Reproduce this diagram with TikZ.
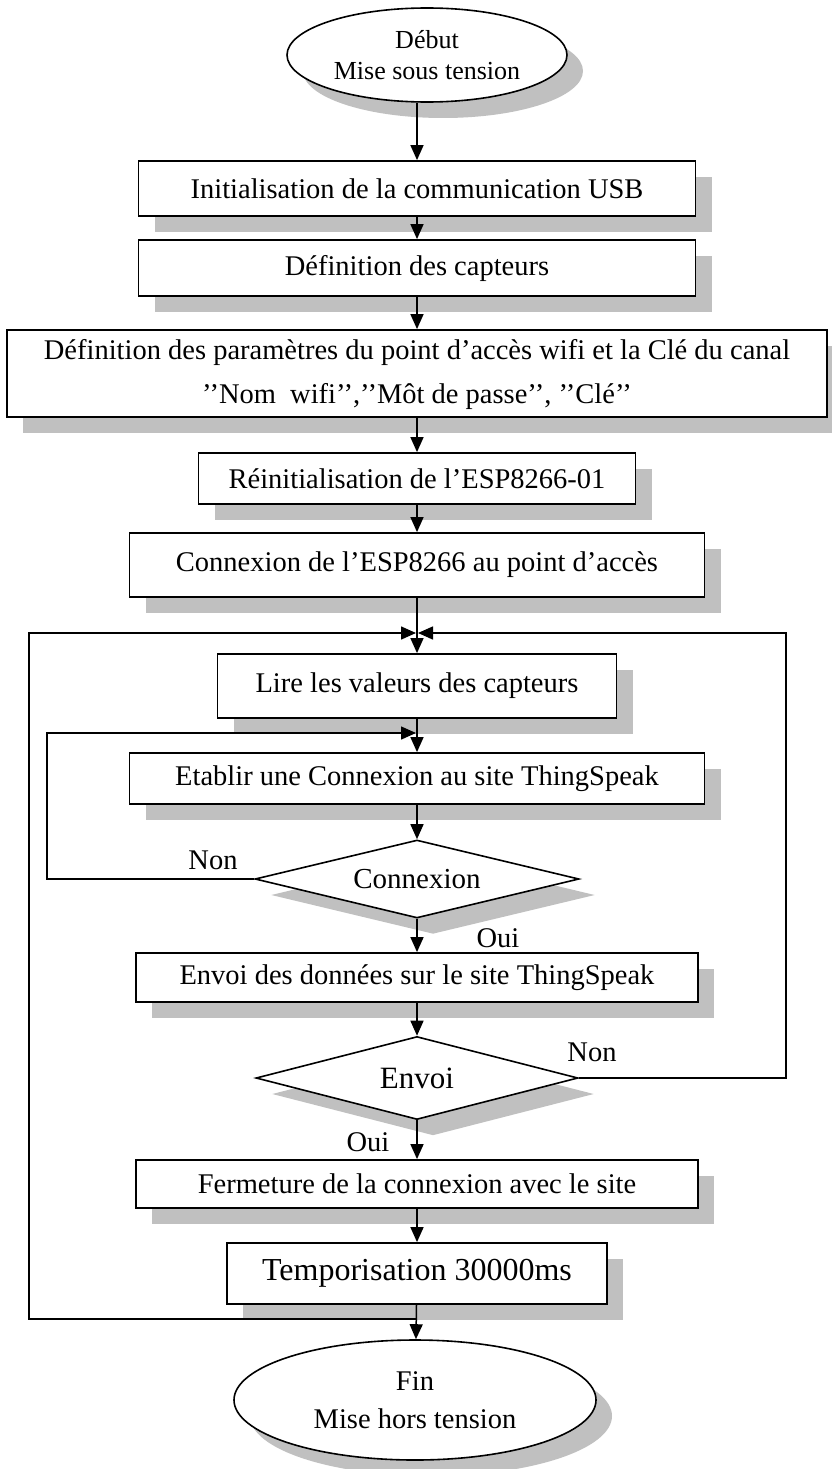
\documentclass[tikz,border=0pt]{standalone}
\usepackage{fontspec}
\setmainfont{Liberation Serif}
\usepackage{tikz}
\usetikzlibrary{arrows.meta}
\usetikzlibrary{shapes.geometric}
\usetikzlibrary{shadows}
\definecolor{ombregris}{RGB}{192,192,192}

\begin{document}
\begin{tikzpicture}[x=1pt,y=-1pt,
    ombre/.style={drop shadow={shadow xshift=16pt,shadow yshift=-16pt,fill=ombregris,opacity=1}},
    boite/.style={draw,line width=1.8pt,fill=white,ombre,inner sep=0pt,align=center,font=\fontsize{28.5}{40}\selectfont},
    decision/.style={diamond,draw,line width=1.6pt,fill=white,ombre,inner sep=0pt,font=\fontsize{29}{34}\selectfont},
    terminal/.style={ellipse,draw,line width=1.6pt,fill=white,ombre,inner sep=0pt,align=center},
    etiquette/.style={inner sep=0pt,font=\fontsize{28.5}{34}\selectfont},
    fleche/.style={line width=1.5pt,-{Triangle[length=15pt,width=13pt]}}]
          \useasboundingbox (0,0) rectangle (831,1469);
          % Debut
          \node[terminal,minimum width=280pt,minimum height=94pt,font=\fontsize{26}{31}\selectfont] (debut) at (427,55) {Début\\Mise sous tension};
          % initialisation USB
          \node[boite,minimum width=557pt,minimum height=55pt] (init) at (417,188.5) {Initialisation de la communication USB};
          % capteurs
          \node[boite,minimum width=557pt,minimum height=56pt] (capteurs) at (417,268) {Définition des capteurs};
          % point d'acces wifi
          \node[boite,minimum width=820pt,minimum height=87pt] (parametres) at (417,373.5) {\raisebox{-5pt}{\begin{tabular}{@{}c@{}}Définition des paramètres du point d’accès wifi et la Clé du canal\\[4pt]’’Nom~ wifi’’,’’Môt de passe’’, ’’Clé’’\end{tabular}}};
          % ESP8266
          \node[boite,minimum width=437pt,minimum height=51pt] (reinit) at (417,478.5) {Réinitialisation de l’ESP8266-01};
          \node[boite,minimum width=575pt,minimum height=64pt] (connexion) at (417,565) {Connexion de l’ESP8266 au point d’accès};
          % boucle principale
          \node[boite,minimum width=399pt,minimum height=64pt] (lire) at (417,686) {Lire les valeurs des capteurs};
          \node[boite,minimum width=575pt,minimum height=51pt] (etablir) at (417,778.5) {Etablir une Connexion au site ThingSpeak};
          \node[decision,shape aspect=4.15,minimum width=324pt,minimum height=78pt] (testcnx) at (417,879) {Connexion};
          \node[boite,minimum width=562pt,minimum height=49pt] (envoi) at (417,977.5) {Envoi des données sur le site ThingSpeak};
          \node[decision,shape aspect=3.88,minimum width=322pt,minimum height=83pt,font=\fontsize{31}{36}\selectfont] (testenvoi) at (417,1078) {Envoi};
          \node[boite,minimum width=562pt,minimum height=48pt] (fermeture) at (417,1184) {Fermeture de la connexion avec le site};
          \node[boite,minimum width=380pt,minimum height=61pt,font=\fontsize{32}{38}\selectfont] (tempo) at (417,1273.5) {Temporisation 30000ms};
          % Fin
          \node[terminal,minimum width=362pt,minimum height=120pt,font=\fontsize{28.5}{38}\selectfont] (fin) at (415,1400) {Fin\\Mise hors tension};
          % etiquettes
          \node[etiquette] (non1) at (213,860) {Non};
          \node[etiquette] (oui1) at (498,938) {Oui};
          \node[etiquette] (non2) at (592,1052) {Non};
          \node[etiquette] (oui2) at (368,1142) {Oui};
          % points des boucles
          \coordinate (jonction) at (417,633);
          \coordinate (entree) at (417,733);
          \coordinate (retour) at (417,1319);
          \coordinate (coinhg) at (29,633);
          \coordinate (coinhd) at (786,633);
          \coordinate (coing) at (47,733);
          % fleches de l'axe
          \draw[fleche] (debut.south -| init.north) -- (init);
          \draw[fleche] (init) -- (capteurs);
          \draw[fleche] (capteurs) -- (parametres);
          \draw[fleche] (parametres) -- (reinit);
          \draw[fleche] (reinit) -- (connexion);
          \draw[fleche] (connexion) -- (lire);
          \draw[fleche] (lire) -- (etablir);
          \draw[fleche] (etablir) -- (testcnx);
          \draw[fleche] (testcnx) -- (envoi);
          \draw[fleche] (envoi) -- (testenvoi);
          \draw[fleche] (testenvoi) -- (fermeture);
          \draw[fleche] (fermeture) -- (tempo);
          \draw[fleche] (tempo) -- (fin);
          % boucle Non connexion
          \draw[fleche] (testcnx.west) -| (coing) -- ([xshift=-1pt]entree);
          % boucle Non envoi
          \draw[fleche] (testenvoi.east) -| (coinhd) -- ([xshift=1pt]jonction);
          % boucle de retour apres temporisation
          \draw[fleche] (retour) -| (coinhg) -- ([xshift=-1pt]jonction);
\end{tikzpicture}
\end{document}
